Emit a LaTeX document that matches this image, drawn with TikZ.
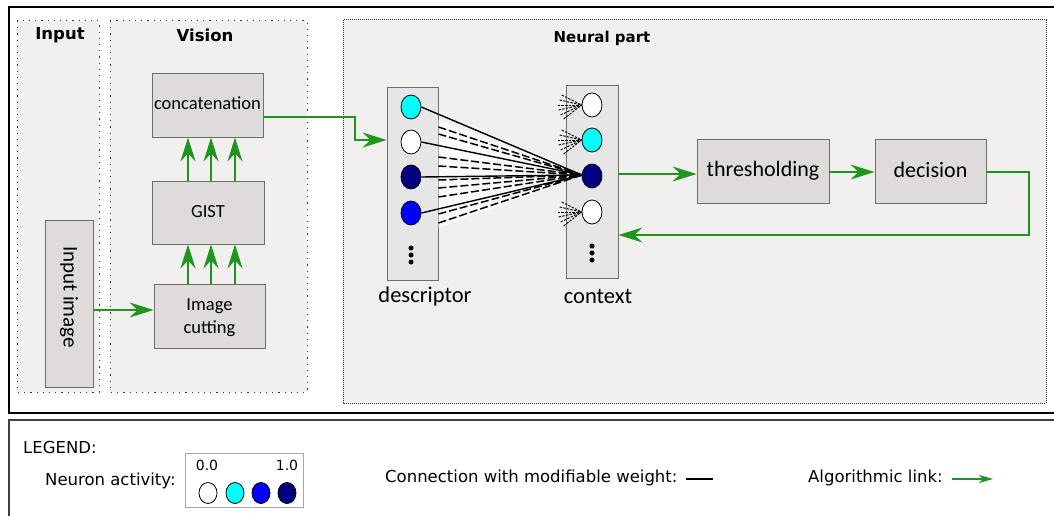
\documentclass[tikz,border=0pt]{standalone}
\usepackage{fontspec}
\setmainfont{Carlito}
\newfontfamily\dejavu{DejaVu Sans}
\usetikzlibrary{arrows.meta,shapes.geometric,calc}

\definecolor{panelfill}{HTML}{F1F0EF}
\definecolor{boxfill}{HTML}{DEDBDA}
\definecolor{boxline}{HTML}{6E6E6E}
\definecolor{colfill}{HTML}{E6E6E6}
\definecolor{linkgreen}{HTML}{1E961E}
\definecolor{navyn}{HTML}{000080}
\definecolor{bluen}{HTML}{0000FF}
\definecolor{cyann}{HTML}{00FFFF}

\tikzset{
  panelsparse/.style={draw=black!80, line width=1pt, dash pattern=on 1.2pt off 5pt, fill=panelfill},
  paneldense/.style={draw=black!80, line width=1pt, dash pattern=on 1pt off 1pt, fill=panelfill},
  procbox/.style={draw=boxline, line width=0.9pt, fill=boxfill, inner sep=0pt, align=center},
  column/.style={draw=boxline, line width=0.9pt, fill=colfill, inner sep=0pt, minimum width=51pt, minimum height=193pt},
  neuron/.style={ellipse, draw=black, line width=0.8pt, inner sep=0pt, minimum width=20pt, minimum height=24pt},
  legneuron/.style={ellipse, draw=black, line width=0.8pt, inner sep=0pt, minimum width=18pt, minimum height=21pt},
  link/.style={draw=linkgreen, line width=2pt, -{Stealth[length=24pt,width=15pt,inset=8pt]}},
  weight/.style={draw=black, line width=1.4pt},
  dashw/.style={draw=black, line width=1.5pt, dash pattern=on 8pt off 3pt},
  fanw/.style={draw=black, line width=0.9pt, dash pattern=on 2.5pt off 1.2pt},
  ptitle/.style={font=\dejavu\bfseries\fontsize{16.5}{18}\selectfont, inner sep=0pt},
  legtext/.style={font=\dejavu\fontsize{16.5}{19}\selectfont, inner sep=0pt, anchor=west},
  dotn/.style={circle, fill=black, inner sep=0pt, minimum size=5pt}
}

\begin{document}
\begin{tikzpicture}[x=1pt,y=-1pt]
\useasboundingbox (0,0) rectangle (1054,516);
\fill[white] (0,0) rectangle (1054,516);

% outer frames
\draw[black, line width=2pt] (1070,7) -- (9,7) -- (9,413) -- (1070,413);
\draw[black!75, line width=1.3pt] (1070,420) -- (9,420) -- (9,530);

% panels
\path[panelsparse] (17,21) rectangle (99,392);
\path[panelsparse] (110,21) rectangle (307,392);
\path[paneldense] (343,20) rectangle (1046,403);

\node[ptitle] (tin) at (60,35) {Input};
\node[ptitle] (tvis) at (205,35) {Vision};
\node[ptitle, font=\dejavu\bfseries\fontsize{15}{18}\selectfont] (tneu) at (602,38) {Neural part};

% processing boxes
\node[procbox, minimum width=111pt, minimum height=64pt, font=\fontsize{18.5}{22}\selectfont] (concat) at (207.5,105) {\raisebox{3pt}{concatenation}};
\node[procbox, minimum width=112pt, minimum height=63pt, font=\fontsize{18.5}{22}\selectfont] (gist) at (208,212.5) {\raisebox{2pt}{GIST}};
\node[procbox, minimum width=111pt, minimum height=64pt, font=\fontsize{18.5}{23}\selectfont] (cut) at (209.5,316) {};
\node[inner sep=0pt, align=center, font=\fontsize{18.5}{23}\selectfont] (cuttxt) at (209.5,318) {Image\\cutting};
\node[procbox, minimum width=48pt, minimum height=167pt] (inimg) at (69,303.5) {};
\node[rotate=-90, inner sep=0pt, font=\fontsize{21}{24}\selectfont] (inimgtxt) at (69,297) {Input image};
\node[procbox, minimum width=132pt, minimum height=64pt, font=\fontsize{22}{26}\selectfont] (thr) at (763,171) {thresholding};
\node[procbox, minimum width=111pt, minimum height=64pt, font=\fontsize{22}{26}\selectfont] (dec) at (930.5,171) {\raisebox{3pt}{decision}};

% neural columns
\node[column] (desc) at (412.5,183.5) {};
\node[column, minimum width=52pt] (ctx) at (592,181.5) {};
\node[inner sep=0pt, font=\fontsize{22.5}{26}\selectfont] (desclab) at (425,296) {descriptor};
\node[inner sep=0pt, font=\fontsize{22.5}{26}\selectfont] (ctxlab) at (598,296) {context};

\node[neuron, fill=cyann] (d1) at (411,107) {};
\node[neuron, fill=white] (d2) at (411,142) {};
\node[neuron, fill=navyn] (d3) at (411,177) {};
\node[neuron, fill=bluen] (d4) at (411,213) {};
\node[dotn] (dd1) at (411,248) {};
\node[dotn] (dd2) at (411,255) {};
\node[dotn] (dd3) at (411,262) {};

\node[neuron, fill=white] (c1) at (592,105) {};
\node[neuron, fill=cyann] (c2) at (592,140) {};
\node[neuron, fill=navyn] (c3) at (592,176) {};
\node[neuron, fill=white] (c4) at (592,212) {};
\node[dotn] (cd1) at (592,246) {};
\node[dotn] (cd2) at (592,253) {};
\node[dotn] (cd3) at (592,260) {};

% weighted connections
\coordinate (tgt) at (582,175);
\fill[white, opacity=0.6] (desc.east |- 0,120) -- (tgt) -- (desc.east |- 0,228) -- cycle;
\foreach \yy in {127,134,157,166,180,188,197,214,223}{
  \draw[dashw] (desc.east |- 0,\yy) -- (tgt);
}
\draw[weight] (d1.east) -- (tgt);
\draw[weight] (d2.east) -- (tgt);
\draw[weight] (d3.east) -- (tgt);
\draw[weight] (d4.east) -- (tgt);

% small incoming fans on context neurons
\foreach \n in {c1,c2,c4}{
  \foreach \dx/\dy in {-20/-10,-22/-5,-24/0,-23/5,-21/10,-18/14}{
    \draw[fanw] ($(\n.west)+(\dx,\dy)$) -- (\n.west);
  }
}

% algorithmic links
\draw[link] (inimg.east |- 0,310) -- (cut.west |- 0,310);
\foreach \xx in {188,211,235}{
  \draw[link] (cut.north -| \xx,0) -- (gist.south -| \xx,0);
  \draw[link] (gist.north -| \xx,0) -- (concat.south -| \xx,0);
}
\draw[link] (concat.east |- 0,117) -- (355,117) |- (desc.west |- 0,140);
\draw[link] (ctx.east |- 0,174) -- (thr.west |- 0,174);
\draw[link] (thr.east |- 0,172) -- (dec.west |- 0,172);
\draw[link] (dec.east |- 0,172) -- (1029,172) |- (ctx.east |- 0,235);

% legend
\node[legtext] (leg) at (23,447) {LEGEND:};
\node[legtext] (legna) at (45,481) {Neuron activity:};
\node[draw=black!35, line width=0.8pt, fill=white, minimum width=118pt, minimum height=54pt, inner sep=0pt] (legbox) at (244,480) {};
\node[inner sep=0pt, font=\dejavu\fontsize{14}{16}\selectfont] (l0) at (207,465) {0.0};
\node[inner sep=0pt, font=\dejavu\fontsize{14}{16}\selectfont] (l1) at (287,465) {1.0};
\node[legneuron, fill=white] (ln1) at (208,493) {};
\node[legneuron, fill=cyann] (ln2) at (235,493) {};
\node[legneuron, fill=bluen] (ln3) at (261,493) {};
\node[legneuron, fill=navyn] (ln4) at (287,493) {};
\node[legtext] (legcw) at (385,478) {Connection with modifiable weight:};
\coordinate (cwa) at (686,479);
\coordinate (cwb) at (713,479);
\draw[black, line width=1.8pt] (cwa) -- (cwb);
\node[legtext] (legal) at (808,478) {Algorithmic link:};
\coordinate (ala) at (952,479);
\coordinate (alb) at (993,479);
\draw[draw=linkgreen, line width=1.3pt, -{Stealth[length=14pt,width=8pt,inset=4pt]}] (ala) -- (alb);
\end{tikzpicture}
\end{document}
